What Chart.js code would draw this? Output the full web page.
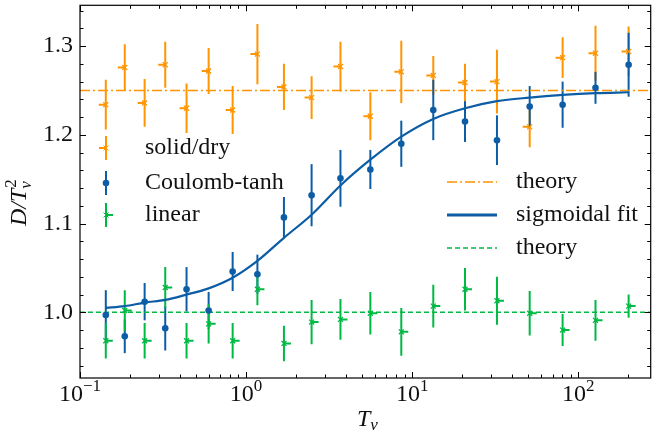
<!DOCTYPE html>
<html>
<head>
<meta charset="utf-8">
<script src="https://cdn.jsdelivr.net/npm/chart.js@4.4.0/dist/chart.umd.min.js"></script>
<style>
  html, body { margin: 0; padding: 0; background: #fff; }
  #wrap { width: 656px; height: 434px; }
</style>
</head>
<body>
<div id="wrap"><canvas id="chart" width="656" height="434"></canvas></div>
<script>
const TV = [0.143, 0.186, 0.245, 0.326, 0.438, 0.595, 0.83, 1.17, 1.69, 2.48, 3.7, 5.6, 8.6, 13.4, 20.8, 32.4, 51, 80.5, 127, 201];

const SOLID_Y = [1.234, 1.276, 1.236, 1.279, 1.230, 1.272, 1.228, 1.291, 1.254, 1.242, 1.277, 1.221, 1.271, 1.267, 1.259, 1.260, 1.209, 1.287, 1.292, 1.294];
const SOLID_ERR = [0.028, 0.026, 0.027, 0.026, 0.028, 0.026, 0.027, 0.034, 0.026, 0.024, 0.028, 0.027, 0.035, 0.022, 0.021, 0.036, 0.023, 0.023, 0.031, 0.028];

const COULOMB_Y = [0.997, 0.973, 1.012, 0.982, 1.026, 1.002, 1.046, 1.043, 1.107, 1.132, 1.151, 1.161, 1.190, 1.228, 1.215, 1.194, 1.232, 1.234, 1.253, 1.279];
const COULOMB_ERR = [0.028, 0.019, 0.021, 0.025, 0.025, 0.021, 0.022, 0.022, 0.023, 0.035, 0.032, 0.022, 0.026, 0.034, 0.023, 0.028, 0.023, 0.026, 0.018, 0.036];

const LINEAR_Y = [0.968, 1.002, 0.968, 1.028, 0.968, 0.987, 0.968, 1.026, 0.965, 0.989, 0.992, 0.999, 0.978, 1.007, 1.026, 1.013, 0.999, 0.980, 0.991, 1.007];
const LINEAR_ERR = [0.020, 0.023, 0.020, 0.023, 0.020, 0.022, 0.020, 0.018, 0.020, 0.025, 0.023, 0.024, 0.027, 0.024, 0.024, 0.027, 0.025, 0.018, 0.023, 0.013];

const FIT_Y = [1.005, 1.007, 1.011, 1.014, 1.020, 1.027, 1.039, 1.058, 1.084, 1.110, 1.143, 1.172, 1.198, 1.218, 1.230, 1.238, 1.242, 1.245, 1.247, 1.248];

const THEORY_SOLID = 1.25;
const THEORY_LINEAR = 1.0;

const X_MIN = 0.1, X_MAX = 273;
const Y_MIN = 0.926, Y_MAX = 1.346;
const X_MAJOR = [0.1, 1, 10, 100];
const X_EXP = ['\u22121', '0', '1', '2'];
const Y_MAJOR = [1.0, 1.1, 1.2, 1.3];

const ORANGE = '#FF9500';
const BLUE = '#0C5DA5';
const GREEN = '#00B945';
const SERIF = '"Liberation Serif", "DejaVu Serif", serif';

const pts = (ys) => TV.map((x, i) => ({ x, y: ys[i] }));

function drawMark(ctx, ds, px, py, bar) {
  ctx.save();
  ctx.strokeStyle = ds.borderColor;
  ctx.lineWidth = 2;
  ctx.beginPath();
  ctx.moveTo(px, py - bar);
  ctx.lineTo(px, py + bar);
  if (ds.tick) {
    ctx.moveTo(px, py);
    ctx.lineTo(px + ds.tick, py);
  }
  ctx.stroke();
  ctx.restore();
}

const errorBars = {
  id: 'errorBars',
  beforeDatasetsDraw(chart) {
    const ctx = chart.ctx;
    const xs = chart.scales.x, ys = chart.scales.y;
    chart.data.datasets.forEach(ds => {
      if (!ds.errs) return;
      ctx.save();
      ctx.strokeStyle = ds.borderColor;
      ctx.lineWidth = 2;
      ds.data.forEach((p, j) => {
        const px = xs.getPixelForValue(p.x);
        const py = ys.getPixelForValue(p.y);
        const top = ys.getPixelForValue(p.y + ds.errs[j]);
        const bot = ys.getPixelForValue(p.y - ds.errs[j]);
        ctx.beginPath();
        ctx.moveTo(px, top);
        ctx.lineTo(px, bot);
        if (ds.tick) {
          ctx.moveTo(px, py);
          ctx.lineTo(px + ds.tick, py);
        }
        ctx.stroke();
      });
      ctx.restore();
    });
  },
};

const frame = {
  id: 'frame',
  afterDraw(chart) {
    const ctx = chart.ctx;
    const a = chart.chartArea;
    const xs = chart.scales.x, ys = chart.scales.y;
    ctx.save();
    ctx.strokeStyle = '#000';
    ctx.lineWidth = 1.2;
    ctx.strokeRect(a.left, a.top, a.right - a.left, a.bottom - a.top);

    // inward ticks on all sides
    ctx.lineWidth = 1;
    ctx.beginPath();
    for (let d = 0.1; d < X_MAX; d *= 10) {
      for (let k = 1; k < 10; k++) {
        const v = d * k;
        if (v < X_MIN || v > X_MAX) continue;
        const len = k === 1 ? 6 : 3.5;
        const px = Math.round(xs.getPixelForValue(v)) + 0.5;
        ctx.moveTo(px, a.bottom); ctx.lineTo(px, a.bottom - len);
        ctx.moveTo(px, a.top); ctx.lineTo(px, a.top + len);
      }
    }
    for (let i = 47; i <= 67; i++) {
      const v = i * 0.02;
      if (v < Y_MIN || v > Y_MAX) continue;
      const len = (i % 5 === 0) ? 6 : 3.5;
      const py = Math.round(ys.getPixelForValue(v)) + 0.5;
      ctx.moveTo(a.left, py); ctx.lineTo(a.left + len, py);
      ctx.moveTo(a.right, py); ctx.lineTo(a.right - len, py);
    }
    ctx.stroke();

    // x tick labels 10^n
    ctx.fillStyle = '#111';
    ctx.textBaseline = 'alphabetic';
    X_MAJOR.forEach((v, i) => {
      const px = xs.getPixelForValue(v);
      ctx.font = '24px ' + SERIF;
      const w1 = ctx.measureText('10').width;
      ctx.font = '17px ' + SERIF;
      const w2 = ctx.measureText(X_EXP[i]).width;
      const x0 = px - (w1 + w2) / 2;
      ctx.font = '24px ' + SERIF;
      ctx.textAlign = 'left';
      ctx.fillText('10', x0, 401);
      ctx.font = '17px ' + SERIF;
      ctx.fillText(X_EXP[i], x0 + w1, 391);
    });

    // x title T_v
    ctx.font = 'italic 24px ' + SERIF;
    ctx.fillText('T', 357, 426);
    const tw = ctx.measureText('T').width;
    ctx.font = 'italic 17px ' + SERIF;
    ctx.fillText('v', 357 + tw, 430);

    // y title D/T_v^2
    ctx.save();
    ctx.translate(26, 226);
    ctx.rotate(-Math.PI / 2);
    ctx.font = 'italic 24px ' + SERIF;
    ctx.fillText('D/T', 0, 0);
    const dw = ctx.measureText('D/T').width;
    ctx.font = '17px ' + SERIF;
    ctx.fillText('2', dw + 1, -10);
    ctx.font = 'italic 17px ' + SERIF;
    ctx.fillText('v', dw, 5);
    ctx.restore();

    // legends
    const ds = chart.data.datasets;
    const left = [[ds[0], 'solid/dry', 148], [ds[1], 'Coulomb-tanh', 183], [ds[2], 'linear', 215]];
    left.forEach(([d, label, y]) => {
      drawMark(ctx, d, 106, y, 12);
      ctx.save();
      ctx.strokeStyle = d.borderColor;
      ctx.fillStyle = d.backgroundColor;
      Chart.helpers.drawPoint(ctx, { pointStyle: d.pointStyle, radius: d.pointRadius, borderWidth: d.borderWidth, rotation: 0 }, 106, y);
      ctx.restore();
      ctx.fillStyle = '#111';
      ctx.font = '24px ' + SERIF;
      ctx.textBaseline = 'middle';
      ctx.textAlign = 'left';
      ctx.fillText(label, 145, y);
    });
    const right = [[ds[4], 'theory', 182], [ds[3], 'sigmoidal fit', 215], [ds[5], 'theory', 248]];
    right.forEach(([d, label, y]) => {
      ctx.save();
      ctx.strokeStyle = d.borderColor;
      ctx.lineWidth = d.legendWidth || d.borderWidth;
      ctx.setLineDash(d.borderDash || []);
      ctx.beginPath();
      ctx.moveTo(447, y); ctx.lineTo(497, y);
      ctx.stroke();
      ctx.restore();
      ctx.fillStyle = '#111';
      ctx.font = '24px ' + SERIF;
      ctx.textBaseline = 'middle';
      ctx.textAlign = 'left';
      ctx.fillText(label, 516, y);
    });
    ctx.restore();
  },
};

const noPad = s => {
  s.paddingTop = 0; s.paddingBottom = 0; s.paddingLeft = 0; s.paddingRight = 0;
};

new Chart(document.getElementById('chart'), {
  type: 'scatter',
  data: {
    datasets: [
      {
        label: 'solid/dry',
        data: pts(SOLID_Y),
        errs: SOLID_ERR,
        tick: -7,
        borderColor: ORANGE,
        backgroundColor: ORANGE,
        pointStyle: 'crossRot',
        pointRadius: 3.5,
        borderWidth: 1.3,
        order: 2,
      },
      {
        label: 'Coulomb-tanh',
        data: pts(COULOMB_Y),
        errs: COULOMB_ERR,
        borderColor: BLUE,
        backgroundColor: BLUE,
        pointStyle: 'circle',
        pointRadius: 3.3,
        borderWidth: 0,
        order: 3,
      },
      {
        label: 'linear',
        data: pts(LINEAR_Y),
        errs: LINEAR_ERR,
        tick: 7,
        borderColor: GREEN,
        backgroundColor: GREEN,
        pointStyle: 'crossRot',
        pointRadius: 3.5,
        borderWidth: 1.3,
        order: 2,
      },
      {
        label: 'sigmoidal fit',
        data: pts(FIT_Y),
        showLine: true,
        borderColor: BLUE,
        backgroundColor: BLUE,
        borderWidth: 2.2,
        legendWidth: 3,
        pointRadius: 0,
        cubicInterpolationMode: 'monotone',
        order: 1,
      },
      {
        label: 'theory',
        data: [{ x: X_MIN, y: THEORY_SOLID }, { x: X_MAX, y: THEORY_SOLID }],
        showLine: true,
        borderColor: ORANGE,
        borderWidth: 1.5,
        borderDash: [10, 3, 2, 3],
        pointRadius: 0,
        order: 4,
      },
      {
        label: 'theory',
        data: [{ x: X_MIN, y: THEORY_LINEAR }, { x: X_MAX, y: THEORY_LINEAR }],
        showLine: true,
        borderColor: GREEN,
        borderWidth: 1.5,
        borderDash: [5, 3],
        pointRadius: 0,
        order: 4,
      },
    ],
  },
  options: {
    responsive: false,
    animation: false,
    devicePixelRatio: 1,
    layout: { padding: { top: 5, right: 2, left: 0, bottom: 0 } },
    scales: {
      x: {
        type: 'logarithmic',
        min: X_MIN,
        max: X_MAX,
        ticks: { display: false },
        grid: { display: false },
        border: { display: false },
        afterFit: s => { s.height = 56; noPad(s); },
      },
      y: {
        min: Y_MIN,
        max: Y_MAX,
        afterBuildTicks: s => { s.ticks = Y_MAJOR.map(v => ({ value: v })); },
        ticks: {
          color: '#111',
          padding: 7,
          font: { family: SERIF, size: 24 },
          callback: v => v.toFixed(1),
        },
        grid: { display: false, drawTicks: false },
        border: { display: false },
        afterFit: s => { s.width = 80; noPad(s); },
      },
    },
    plugins: {
      legend: { display: false },
      tooltip: { enabled: false },
    },
  },
  plugins: [errorBars, frame],
});
</script>
</body>
</html>
